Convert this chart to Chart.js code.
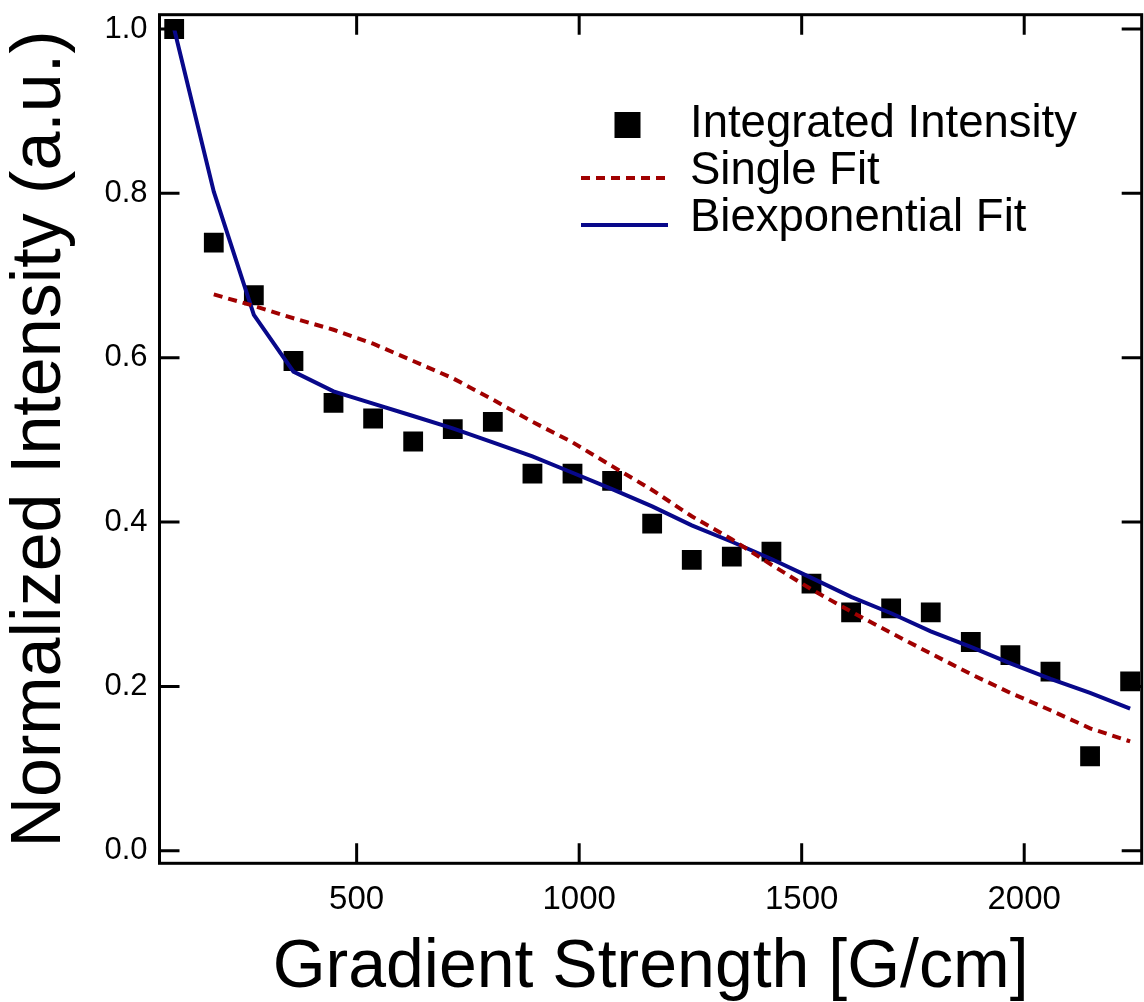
<!DOCTYPE html>
<html>
<head>
<meta charset="utf-8">
<script src="https://cdn.jsdelivr.net/npm/chart.js@4.4.1/dist/chart.umd.min.js"></script>
<style>
  html, body { margin: 0; padding: 0; background: #ffffff; overflow: hidden; }
  #wrap { width: 1144px; height: 1002px; position: relative; }
  #chart { display: block; }
</style>
</head>
<body>
<div id="wrap"><canvas id="chart"></canvas></div>
<script>
// Gradient strengths [G/cm]
const gradient = [90, 179, 269, 358, 448, 537, 627, 716, 806, 895, 985, 1074, 1164,
                  1253, 1343, 1432, 1522, 1611, 1701, 1790, 1880, 1969, 2059, 2148, 2238];

// Measured, normalized integrated intensity
const intensity = [1.000, 0.740, 0.676, 0.596, 0.545, 0.526, 0.498, 0.513, 0.522, 0.459,
                   0.459, 0.450, 0.398, 0.354, 0.358, 0.364, 0.325, 0.290, 0.295, 0.290,
                   0.254, 0.238, 0.218, 0.115, 0.206];

// Single-component fit (not evaluated at the first gradient)
const singleFit = [null, 0.677, 0.663, 0.648, 0.634, 0.617, 0.596, 0.575, 0.549, 0.522,
                   0.497, 0.468, 0.439, 0.407, 0.379, 0.348, 0.318, 0.291, 0.265, 0.240,
                   0.215, 0.192, 0.171, 0.149, 0.133];

// Two-component (biexponential) fit
const biFit = [1.000, 0.802, 0.652, 0.583, 0.559, 0.544, 0.529, 0.514, 0.497, 0.480,
               0.460, 0.440, 0.419, 0.396, 0.376, 0.355, 0.332, 0.309, 0.289, 0.267,
               0.248, 0.228, 0.209, 0.192, 0.173];

const xTickValues = [500, 1000, 1500, 2000];
const yTickValues = [0.0, 0.2, 0.4, 0.6, 0.8, 1.0];

const seriesLabels = ['Integrated Intensity', 'Single Fit', 'Biexponential Fit'];
const axisTitles = { x: 'Gradient Strength [G/cm]', y: 'Normalized Intensity (a.u.)' };

const FONT = '"Liberation Sans", Arial, Helvetica, sans-serif';

function pairs(xs, ys) {
  const out = [];
  xs.forEach((x, i) => { if (ys[i] !== null) out.push({ x: x, y: ys[i] }); });
  return out;
}

// Frame, inward tick marks on all four sides, and the in-plot legend
const framePlugin = {
  id: 'frameAndLegend',
  afterDatasetsDraw(chart) {
    const ctx = chart.ctx;
    const a = chart.chartArea;
    const xs = chart.scales.x, ys = chart.scales.y;
    const tickLen = 20;
    ctx.save();
    ctx.strokeStyle = '#000';
    ctx.lineWidth = 3;
    ctx.lineCap = 'butt';
    ctx.strokeRect(a.left, a.top, a.right - a.left, a.bottom - a.top);
    ctx.beginPath();
    xTickValues.forEach(v => {
      const px = xs.getPixelForValue(v);
      ctx.moveTo(px, a.bottom); ctx.lineTo(px, a.bottom - tickLen);
      ctx.moveTo(px, a.top); ctx.lineTo(px, a.top + tickLen);
    });
    yTickValues.forEach(v => {
      const py = ys.getPixelForValue(v);
      ctx.moveTo(a.left, py); ctx.lineTo(a.left + tickLen, py);
      ctx.moveTo(a.right, py); ctx.lineTo(a.right - tickLen, py);
    });
    ctx.stroke();

    // legend
    const rowY = [124, 171, 218];
    const sampleL = 581, sampleR = 668, textX = 690;
    ctx.font = '45.5px ' + FONT;
    ctx.textBaseline = 'middle';
    ctx.textAlign = 'left';
    chart.data.datasets.forEach((ds, i) => {
      const y = rowY[i];
      if (ds.showLine === false) {
        const s = 26;
        ctx.fillStyle = ds.backgroundColor;
        ctx.fillRect((sampleL + sampleR) / 2 - s / 2 + 3, y - s / 2 + 1, s, s);
      } else {
        ctx.beginPath();
        ctx.strokeStyle = ds.borderColor;
        ctx.lineWidth = ds.borderWidth;
        ctx.setLineDash(ds.borderDash || []);
        ctx.moveTo(sampleL, y + 7);
        ctx.lineTo(sampleR, y + 7);
        ctx.stroke();
        ctx.setLineDash([]);
      }
      ctx.fillStyle = '#000';
      ctx.fillText(ds.label, textX, y);
    });
    ctx.restore();
  }
};

new Chart(document.getElementById('chart'), {
  type: 'scatter',
  data: {
    datasets: [
      {
        label: seriesLabels[0],
        data: pairs(gradient, intensity),
        showLine: false,
        pointStyle: 'rect',
        pointRadius: 14,
        pointBorderWidth: 0,
        backgroundColor: '#000000',
        borderColor: '#000000',
        order: 3
      },
      {
        label: seriesLabels[1],
        data: pairs(gradient, singleFit),
        showLine: true,
        borderColor: '#a00000',
        backgroundColor: '#a00000',
        borderWidth: 4,
        borderDash: [9, 6],
        pointRadius: 0,
        tension: 0,
        order: 1
      },
      {
        label: seriesLabels[2],
        data: pairs(gradient, biFit),
        showLine: true,
        borderColor: '#08088a',
        backgroundColor: '#08088a',
        borderWidth: 4,
        pointRadius: 0,
        tension: 0,
        order: 2
      }
    ]
  },
  options: {
    responsive: true,
    maintainAspectRatio: false,
    animation: false,
    layout: { autoPadding: false, padding: { left: 0, right: 2.3, top: 14.7, bottom: 0 } },
    plugins: { legend: { display: false }, tooltip: { enabled: false } },
    scales: {
      x: {
        type: 'linear',
        min: 57,
        max: 2264,
        grid: { display: false, drawTicks: false },
        border: { display: false },
        afterFit(scale) {
          scale.height = 138.7;
          scale.paddingLeft = 0;
          scale.paddingRight = 0;
        },
        afterBuildTicks(scale) { scale.ticks = xTickValues.map(v => ({ value: v })); },
        ticks: {
          padding: 17,
          color: '#000',
          font: { family: FONT, size: 33 },
          callback: v => String(v)
        },
        title: {
          display: true,
          text: axisTitles.x,
          color: '#000',
          font: { family: FONT, size: 68, lineHeight: 1 },
          padding: { top: 0, bottom: 0 }
        }
      },
      y: {
        type: 'linear',
        min: -0.0153,
        max: 1.0174,
        grid: { display: false, drawTicks: false },
        border: { display: false },
        afterFit(scale) {
          scale.width = 159.5;
          scale.paddingTop = 0;
          scale.paddingBottom = 0;
        },
        afterBuildTicks(scale) { scale.ticks = yTickValues.map(v => ({ value: v })); },
        ticks: {
          padding: 12,
          color: '#000',
          font: { family: FONT, size: 31 },
          callback: v => Number(v).toFixed(1)
        },
        title: {
          display: true,
          text: axisTitles.y,
          color: '#000',
          font: { family: FONT, size: 70, lineHeight: 1 },
          padding: { top: 6, bottom: 0 }
        }
      }
    }
  },
  plugins: [framePlugin]
});
</script>
</body>
</html>
